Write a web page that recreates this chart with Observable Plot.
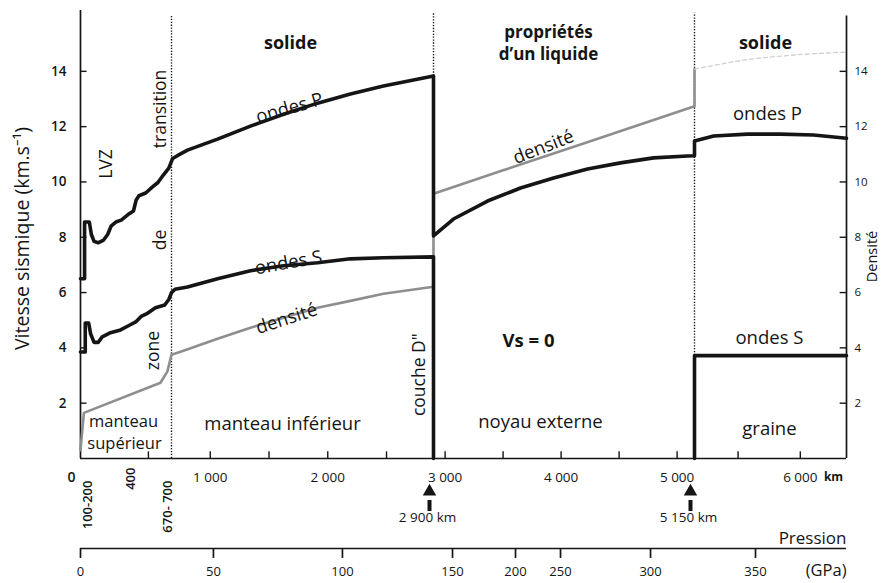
<!DOCTYPE html>
<html><head><meta charset="utf-8">
<script src="https://cdn.jsdelivr.net/npm/d3@7"></script>
<script src="https://cdn.jsdelivr.net/npm/@observablehq/plot@0.6"></script>
<style>
body{margin:0;background:#fff;}
#chart svg{display:block;}
</style></head><body><div id="chart"></div>
<script>
// ---- data (depth in km) ----
const vpDepth = [0,30,30,65,80,100,130,170,200,225,260,300,350,390,410,430,480,530,570,610,650,680,720,806,1062,1342,1623,1913,2193,2474,2900,2900,3072,3366,3650,3935,4228,4512,4797,5090,5150,5150,5304,5576,5841,6106,6371];
const vpSpeed = [6.5,6.5,8.55,8.55,8.1,7.85,7.8,7.9,8.1,8.4,8.55,8.62,8.82,8.95,9.35,9.5,9.6,9.82,9.98,10.25,10.5,10.85,10.95,11.15,11.55,12.02,12.45,12.85,13.18,13.47,13.83,8.05,8.66,9.31,9.78,10.14,10.47,10.69,10.87,10.94,10.95,11.48,11.66,11.73,11.73,11.7,11.58];

const vsMantleDepth = [0,35,35,60,75,100,130,160,221,295,353,410,450,493,552,620,650,670,700,806,1062,1342,1623,1913,2193,2474,2900,2900];
const vsMantleSpeed = [3.85,3.85,4.9,4.9,4.5,4.2,4.2,4.4,4.55,4.65,4.8,4.95,5.15,5.25,5.45,5.55,5.75,6.0,6.12,6.2,6.5,6.79,6.97,7.08,7.22,7.26,7.29,0];
const vsCoreDepth = [5150,5150,6371];
const vsCoreSpeed = [0,3.72,3.72];

const rhoDepth = [0,25,589,640,670,772,1062,1342,1623,1913,2193,2474,2900,2900,3500,4200,5150,5150];
const rhoValue = [0.3,1.65,2.74,3.15,3.75,3.9,4.33,4.73,5.09,5.45,5.7,5.96,6.21,9.57,10.42,11.4,12.74,14.08];
const rhoInnerDepth = [5150,5380,5600,5980,6371];
const rhoInnerValue = [14.08,14.28,14.44,14.6,14.7];

const velocityTicks = [2,4,6,8,10,12,14];
const densityTicks = [2,4,6,8,10,12,14];
const kmMinorTicks = [500,1000,1500,2000,2500,3000,3500,4000,4500,5000,5500,6000];
const kmLabelDepth = [0,1000,2000,3000,4000,5000,6000];
const kmLabelText = ["0","1 000","2 000","3 000","4 000","5 000","6 000"];
const upperDepthAt = [55,640];
const upperDepthText = ["100-200","670- 700"];
const midDepthAt = [370];
const midDepthText = ["400"];
const pressureValue = [0,50,100,150,200,250,300,350];
const pressureDepth = [0,1027,2125,3064,3607,3995,4771,5640];
const arrowDepth = [2900,5150];
const arrowText = ["2 900 km","5 150 km"];

// ---- tables ----
const vp = vpDepth.map((d,i)=>({depth:d, v:vpSpeed[i]}));
const vs = [
  ...vsMantleDepth.map((d,i)=>({depth:d, v:vsMantleSpeed[i], seg:"m"})),
  ...vsCoreDepth.map((d,i)=>({depth:d, v:vsCoreSpeed[i], seg:"c"}))
];
const rho = rhoDepth.map((d,i)=>({depth:d, v:rhoValue[i]}));
const rhoInner = rhoInnerDepth.map((d,i)=>({depth:d, v:rhoInnerValue[i]}));
const kmLabels = kmLabelDepth.map((d,i)=>({depth:d, t:kmLabelText[i]}));
const pressure = pressureDepth.map((d,i)=>({depth:d, p:pressureValue[i]}));
const arrows = arrowDepth.map((d,i)=>({depth:d, t:arrowText[i]}));

const F = "'Open Sans', 'Noto Sans', sans-serif";
const ink = "#151515";
const grey = "#8e8e8e";
const txt = (s, o) => Plot.text([s], {fontSize: 18.5, fill: ink, fontFamily: F, ...o});

const chart = Plot.plot({
  width: 884, height: 583,
  marginTop: 10, marginBottom: 125, marginLeft: 80, marginRight: 38,
  style: {fontFamily: F, background: "#fff"},
  x: {type: "linear", domain: [0,670,2900,5150,6371], range: [80,171,433,694,846], axis: null},
  y: {type: "linear", domain: [0,16.2], range: [458,10], axis: null},
  marks: [
    // boundaries (dotted)
    Plot.ruleX([670], {y1: 0, y2: 16, stroke: ink, strokeWidth: 1.4, strokeDasharray: "1.3,1.6"}),
    Plot.ruleX([2900], {y1: 13.83, y2: 16.1, stroke: ink, strokeWidth: 1.4, strokeDasharray: "1.3,1.6"}),
    Plot.ruleX([5150], {y1: 3.72, y2: 16.1, stroke: ink, strokeWidth: 1.4, strokeDasharray: "1.3,1.6"}),
    // axes lines
    Plot.ruleX([0], {y1: 0, y2: 16.2, stroke: ink, strokeWidth: 1.7}),
    Plot.ruleX([6371], {y1: 0, y2: 16, stroke: ink, strokeWidth: 1.7}),
    Plot.ruleY([0], {stroke: ink, strokeWidth: 1.7}),
    // inward ticks
    Plot.ruleY(velocityTicks, {x1: 0, x2: 48, stroke: ink, strokeWidth: 1.4}),
    Plot.ruleY(densityTicks, {x1: 6320, x2: 6371, stroke: ink, strokeWidth: 1.4}),
    Plot.ruleX(kmMinorTicks, {y1: 0, y2: 0.24, stroke: ink, strokeWidth: 1.4}),
    Plot.axisY({anchor: "left", ticks: velocityTicks, tickSize: 0, tickPadding: 14, label: null, fontSize: 13.5, fontWeight: 600, fill: ink}),
    Plot.axisY({anchor: "right", ticks: densityTicks, tickSize: 0, tickPadding: 8, label: null, fontSize: 11.5, fill: ink}),
    // km labels
    Plot.text(kmLabels.slice(1), {x: "depth", y: 0, dy: 19, text: "t", fontSize: 13.5, fill: ink}),
    Plot.text(kmLabels.slice(0,1), {x: "depth", y: 0, dy: 19, dx: -9, text: "t", fontSize: 14, fontWeight: 600, fill: ink}),
    Plot.text(["km"], {x: 6371, y: 0, dx: -13, dy: 19, fontSize: 12, fontWeight: 700, fill: ink}),
    Plot.text(upperDepthText, {x: upperDepthAt, y: 0, dy: 22, rotate: -90, textAnchor: "end", fontSize: 13, fontWeight: 600, fill: ink}),
    Plot.text(midDepthText, {x: midDepthAt, y: 0, dy: 9, rotate: -90, textAnchor: "end", fontSize: 13, fontWeight: 600, fill: ink}),
    // arrows to boundaries
    Plot.ruleX(arrows, {x: "depth", y1: 0, y2: -0.4, dy: 42, dx: -4, stroke: ink, strokeWidth: 4}),
    Plot.dot(arrows, {x: "depth", y: 0, dy: 33, dx: -4, symbol: "triangle", r: 5, fill: ink, stroke: "none"}),
    Plot.text(arrows, {x: "depth", y: 0, dy: 59, dx: -6, text: "t", fontSize: 13.5, fill: ink}),
    // pressure axis
    Plot.ruleY([0], {dy: 90, stroke: ink, strokeWidth: 1.7}),
    Plot.ruleX(pressure, {x: "depth", y1: 0, y2: -0.36, dy: 90, stroke: ink, strokeWidth: 1.7}),
    Plot.text(pressure, {x: "depth", y: 0, dy: 113, text: "p", fontSize: 13, fill: ink}),
    Plot.text(["Pression"], {x: 6371, y: 0, dy: 80, textAnchor: "end", fontSize: 17, fill: ink}),
    Plot.text(["(GPa)"], {x: 6371, y: 0, dy: 112, textAnchor: "end", fontSize: 16.5, fill: ink}),
    // data lines
    Plot.line(rho, {x: "depth", y: "v", stroke: grey, strokeWidth: 2.6}),
    Plot.line(rhoInner, {x: "depth", y: "v", stroke: "#d0d0d0", strokeWidth: 1.3, strokeDasharray: "4,3", curve: "catmull-rom"}),
    Plot.line(vs, {x: "depth", y: "v", z: "seg", stroke: ink, strokeWidth: 3.6, strokeLinejoin: "round"}),
    Plot.line(vp, {x: "depth", y: "v", stroke: ink, strokeWidth: 3.6, strokeLinejoin: "round"}),
    // titles
    Plot.text(["Vitesse sismique (km.s⁻¹)"], {frameAnchor: "left", textAnchor: "middle", dx: -58, dy: 4, rotate: -90, fontSize: 19.5, fill: ink}),
    Plot.text(["Densité"], {frameAnchor: "right", textAnchor: "middle", dx: 26, dy: 22, rotate: -90, fontSize: 14.5, fill: ink}),
    // region annotations
    txt("solide", {x: 1683, y: 15.02, fontWeight: 700, fontSize: 18}),
    txt("propriétés", {x: 3891, y: 15.42, fontWeight: 700, fontSize: 17}),
    txt("d’un liquide", {x: 3891, y: 14.6, fontWeight: 700, fontSize: 17}),
    txt("solide", {x: 5720, y: 15.02, fontWeight: 700, fontSize: 18}),
    txt("ondes P", {x: 1674, y: 12.67, rotate: -16}),
    txt("ondes S", {x: 1666, y: 7.08, rotate: -10}),
    txt("densité", {x: 1649, y: 5.05, rotate: -18}),
    txt("densité", {x: 3848, y: 11.26, rotate: -21.5}),
    txt("ondes P", {x: 5736, y: 12.45}),
    txt("ondes S", {x: 5752, y: 4.37}),
    txt("graine", {x: 5752, y: 1.08}),
    txt("Vs = 0", {x: 3719, y: 4.26, fontWeight: 700}),
    txt("noyau externe", {x: 3822, y: 1.30}),
    txt("manteau inférieur", {x: 1615, y: 1.26}),
    txt("couche D\"", {x: 2781, y: 3.03, rotate: -90, fontSize: 17.5}),
    txt("manteau", {x: 317, y: 1.34, fontSize: 16.5}),
    txt("supérieur", {x: 324, y: 0.54, fontSize: 16.5}),
    txt("LVZ", {x: 191, y: 10.65, rotate: -90, fontSize: 17.5}),
    txt("transition", {x: 589, y: 12.64, rotate: -90, fontSize: 17.5}),
    txt("de", {x: 589, y: 7.9, rotate: -90, fontSize: 17.5}),
    txt("zone", {x: 537, y: 3.9, rotate: -90, fontSize: 17.5})
  ]
});
document.getElementById("chart").appendChild(chart);
</script>
</body></html>
